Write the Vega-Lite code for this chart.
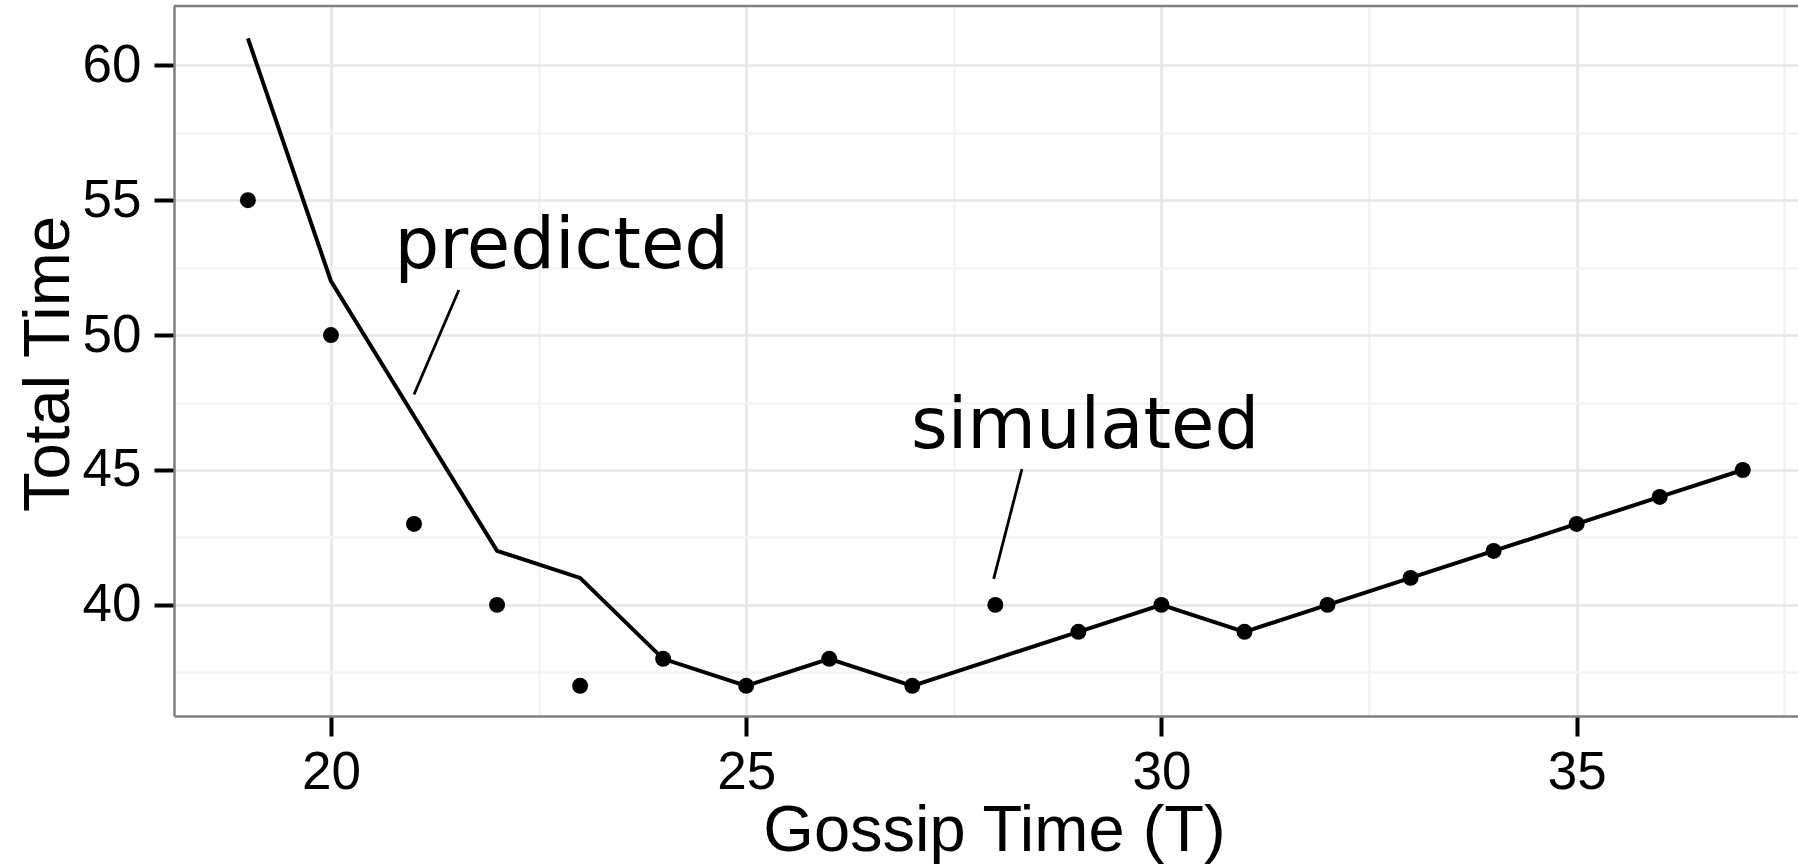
{
  "$schema": "https://vega.github.io/schema/vega-lite/v6.json",
  "autosize": {"type": "none"},
  "padding": {"left": 174, "top": 6, "right": 0, "bottom": 150},
  "width": 1624,
  "height": 710,
  "background": "white",
  "config": {
    "view": {"stroke": null},
    "axis": {
      "labelFont": "Liberation Sans",
      "labelFontSize": 53,
      "labelColor": "#000000",
      "titleFont": "Liberation Sans",
      "titleFontSize": 65,
      "titleFontWeight": "normal",
      "titleColor": "#000000",
      "tickColor": "#000000",
      "tickWidth": 4,
      "tickSize": 20,
      "domainColor": "#7f7f7f",
      "domainWidth": 2.5,
      "gridWidth": 2.6,
      "labelOverlap": false,
      "labelBound": false,
      "labelFlush": false
    }
  },
  "datasets": {
    "series": [
      {"T": 19, "simulated": 55, "predicted": 61},
      {"T": 20, "simulated": 50, "predicted": 52},
      {"T": 21, "simulated": 43, "predicted": 47},
      {"T": 22, "simulated": 40, "predicted": 42},
      {"T": 23, "simulated": 37, "predicted": 41},
      {"T": 24, "simulated": 38, "predicted": 38},
      {"T": 25, "simulated": 37, "predicted": 37},
      {"T": 26, "simulated": 38, "predicted": 38},
      {"T": 27, "simulated": 37, "predicted": 37},
      {"T": 28, "simulated": 40, "predicted": 38},
      {"T": 29, "simulated": 39, "predicted": 39},
      {"T": 30, "simulated": 40, "predicted": 40},
      {"T": 31, "simulated": 39, "predicted": 39},
      {"T": 32, "simulated": 40, "predicted": 40},
      {"T": 33, "simulated": 41, "predicted": 41},
      {"T": 34, "simulated": 42, "predicted": 42},
      {"T": 35, "simulated": 43, "predicted": 43},
      {"T": 36, "simulated": 44, "predicted": 44},
      {"T": 37, "simulated": 45, "predicted": 45}
    ],
    "labels": [
      {"label": "predicted", "x": 22.78, "y": 52.48},
      {"label": "simulated", "x": 29.08, "y": 45.8}
    ],
    "pointers": [
      {"x": 21.54, "y": 51.67, "x2": 21.0, "y2": 47.8},
      {"x": 28.32, "y": 45.03, "x2": 27.98, "y2": 40.96}
    ]
  },
  "layer": [
    {
      "data": {"name": "series"},
      "mark": {"type": "line", "color": "#000000", "strokeWidth": 4, "clip": true},
      "encoding": {
        "x": {
          "field": "T",
          "type": "quantitative",
          "scale": {"domain": [18.11, 37.665], "nice": false, "zero": false},
          "axis": {
            "title": "Gossip Time (T)",
            "values": [20, 22.5, 25, 27.5, 30, 32.5, 35, 37.5],
            "labelExpr": "datum.value % 5 === 0 ? format(datum.value, 'd') : ''",
            "tickOpacity": {"condition": {"test": "datum.value % 5 === 0", "value": 1}, "value": 0},
            "gridColor": {"condition": {"test": "datum.value % 5 === 0", "value": "#e6e6e6"}, "value": "#f3f3f3"},
            "grid": true,
            "labelBaseline": "alphabetic",
            "labelPadding": 52,
            "titleBaseline": "alphabetic",
            "titleAlign": "center",
            "titleX": 820,
            "titleY": 134
          }
        },
        "y": {
          "field": "predicted",
          "type": "quantitative",
          "scale": {"domain": [35.88, 62.2], "nice": false, "zero": false},
          "axis": {
            "title": "Total Time",
            "values": [37.5, 40, 42.5, 45, 47.5, 50, 52.5, 55, 57.5, 60],
            "labelExpr": "datum.value % 5 === 0 ? format(datum.value, 'd') : ''",
            "tickOpacity": {"condition": {"test": "datum.value % 5 === 0", "value": 1}, "value": 0},
            "gridColor": {"condition": {"test": "datum.value % 5 === 0", "value": "#e6e6e6"}, "value": "#f3f3f3"},
            "grid": true,
            "labelPadding": 13,
            "labelBaseline": "middle",
            "titleAngle": 270,
            "titleBaseline": "alphabetic",
            "titleAlign": "center",
            "titleX": -106,
            "titleY": 357.5
          }
        }
      }
    },
    {
      "data": {"name": "series"},
      "mark": {"type": "point", "filled": true, "color": "#000000", "opacity": 1, "size": 255, "shape": "circle"},
      "encoding": {
        "x": {"field": "T", "type": "quantitative"},
        "y": {"field": "simulated", "type": "quantitative"}
      }
    },
    {
      "data": {"name": "pointers"},
      "mark": {"type": "rule", "color": "#000000", "strokeWidth": 2.8},
      "encoding": {
        "x": {"field": "x", "type": "quantitative"},
        "y": {"field": "y", "type": "quantitative"},
        "x2": {"field": "x2"},
        "y2": {"field": "y2"}
      }
    },
    {
      "data": {"name": "labels"},
      "mark": {"type": "text", "font": "DejaVu Sans", "fontSize": 70.5, "color": "#000000", "align": "center", "baseline": "alphabetic"},
      "encoding": {
        "x": {"field": "x", "type": "quantitative"},
        "y": {"field": "y", "type": "quantitative"},
        "text": {"field": "label"}
      }
    },
    {
      "data": {"values": [{"edge": 62.2}]},
      "mark": {"type": "rule", "color": "#7f7f7f", "strokeWidth": 2.5},
      "encoding": {
        "y": {"field": "edge", "type": "quantitative"}
      }
    }
  ]
}
